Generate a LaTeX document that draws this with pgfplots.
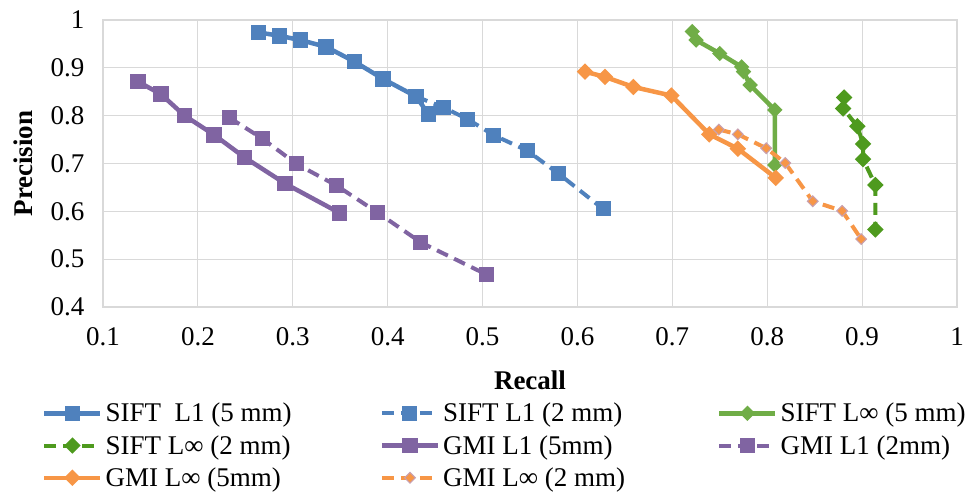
\documentclass[border=0pt]{standalone}
\usepackage{fontspec}
\setmainfont{Liberation Serif}
\usepackage{pgfplots}
\pgfplotsset{compat=1.18}

\definecolor{cblue}{HTML}{4F81BD}
\definecolor{cpurple}{HTML}{8064A2}
\definecolor{corange}{HTML}{F79646}
\definecolor{cgreen}{HTML}{70AD47}
\definecolor{cdgreen}{HTML}{4E9A1E}
\definecolor{gridgray}{HTML}{D9D9D9}
\definecolor{cpink}{HTML}{C8A0B0}

\newcommand{\chartfont}{\fontsize{27bp}{32bp}\selectfont}

\begin{document}
\begin{tikzpicture}[font=\chartfont]
\path[use as bounding box] (-103bp,-197bp) rectangle (865bp,307bp);
\begin{axis}[
  scale only axis,
  width=854bp, height=287bp,
  xmin=0.1, xmax=1, ymin=0.4, ymax=1,
  xtick={0.1,0.2,0.3,0.4,0.5,0.6,0.7,0.8,0.9,1},
  ytick={0.4,0.5,0.6,0.7,0.8,0.9,1},
  grid=major,
  grid style={line width=1.2bp, gridgray},
  axis line style={line width=1.2bp, gridgray},
  major tick length=0pt,
  /pgf/number format/assume math mode=true,
  ticklabel style={font=\chartfont},
  xticklabel style={yshift=-17bp},
  yticklabel style={xshift=-15bp},
  xlabel={\textbf{Recall}},
  ylabel={\textbf{Precision}},
  xlabel style={at={(axis description cs:0.5,-0.2544)}, anchor=center},
  ylabel style={at={(axis description cs:-0.0937,0.5)}, anchor=center},
  legend columns=3,
  legend style={at={(axis description cs:-0.0749,-0.3275)}, anchor=north west,
    draw=none, fill=none, font=\chartfont,
    nodes={inner sep=0pt, anchor=west}, row sep=12bp},
  legend image code/.code={\draw[mark repeat=2,mark phase=2,#1] plot coordinates {(0bp,0bp)(28bp,0bp)(56bp,0bp)};},
  solidline/.style={line width=4.5bp},
  dashline/.style={line width=4bp, dash pattern=on 12bp off 7bp},
]

% SIFT L1 (5 mm)
\addplot[cblue, solidline, mark=square*, mark size=5.5bp, mark options={solid}] coordinates {
 (0.264,0.974) (0.286,0.967) (0.308,0.958) (0.335,0.944) (0.365,0.913)
 (0.395,0.877) (0.430,0.840) (0.443,0.803)};
\addlegendentry{\makebox[277bp][l]{\hspace{3bp}SIFT\ \ L1 (5 mm)}}

% SIFT L1 (2 mm)
\addplot[cblue, dashline, mark=square*, mark size=5.5bp, mark options={solid}] coordinates {
 (0.430,0.840) (0.459,0.817) (0.484,0.793) (0.512,0.759) (0.547,0.727)
 (0.580,0.679) (0.627,0.605)};
\addlegendentry{\makebox[277bp][l]{\hspace{3bp}SIFT L1 (2 mm)}}

% SIFT Linf (5 mm)
\addplot[cgreen, solidline, mark=square*, mark size=3.2bp, mark options={solid, rotate=45}] coordinates {
 (0.721,0.976) (0.725,0.958) (0.750,0.930) (0.773,0.902) (0.775,0.892)
 (0.782,0.864) (0.808,0.812) (0.808,0.697)};
\addlegendentry{\makebox[200bp][l]{\hspace{3bp}SIFT L∞ (5 mm)}}

% SIFT Linf (2 mm)
\addplot[cdgreen, dashline, mark=square*, mark size=3.8bp, mark options={solid, rotate=45}] coordinates {
 (0.881,0.838) (0.880,0.815) (0.895,0.778) (0.901,0.741) (0.901,0.709)
 (0.914,0.655) (0.914,0.562)};
\addlegendentry{\makebox[277bp][l]{\hspace{3bp}SIFT L∞ (2 mm)}}

% GMI L1 (5mm)
\addplot[cpurple, solidline, mark=square*, mark size=5.5bp, mark options={solid}] coordinates {
 (0.137,0.871) (0.161,0.845) (0.186,0.800) (0.217,0.760) (0.249,0.713)
 (0.292,0.658) (0.349,0.597)};
\addlegendentry{\makebox[277bp][l]{\hspace{3bp}GMI L1 (5mm)}}

% GMI L1 (2mm)
\addplot[cpurple, dashline, mark=square*, mark size=5.5bp, mark options={solid}] coordinates {
 (0.233,0.796) (0.268,0.752) (0.304,0.699) (0.346,0.654) (0.389,0.598)
 (0.435,0.535) (0.504,0.468)};
\addlegendentry{\makebox[200bp][l]{\hspace{3bp}GMI L1 (2mm)}}

% GMI Linf (5mm)
\addplot[corange, solidline, mark=square*, mark size=3.6bp, mark options={solid, rotate=45}] coordinates {
 (0.608,0.892) (0.629,0.881) (0.659,0.860) (0.699,0.842) (0.739,0.761)
 (0.769,0.731) (0.809,0.670)};
\addlegendentry{\makebox[277bp][l]{\hspace{3bp}GMI L∞ (5mm)}}

% GMI Linf (2 mm)
\addplot[corange, dashline, mark=square*, mark size=3.8bp, mark options={solid, rotate=45, draw=cpink, line width=1bp}] coordinates {
 (0.749,0.771) (0.769,0.761) (0.799,0.732) (0.819,0.701) (0.848,0.621)
 (0.879,0.601) (0.899,0.542)};
\addlegendentry{\makebox[277bp][l]{\hspace{3bp}GMI L∞ (2 mm)}}

\end{axis}
\end{tikzpicture}
\end{document}
